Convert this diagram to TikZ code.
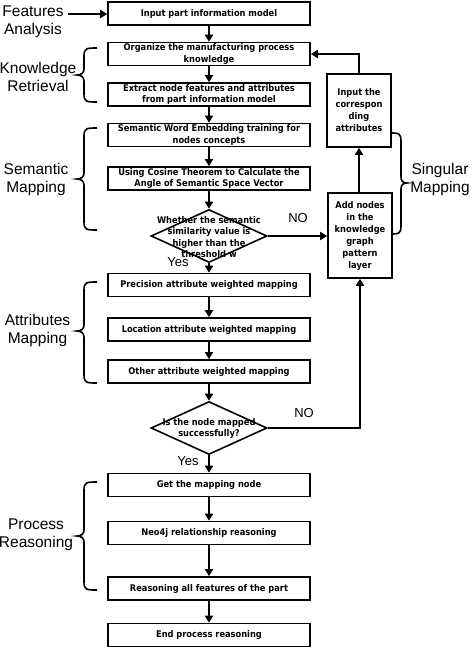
\documentclass[tikz,border=0pt]{standalone}
\usepackage{fontspec}
\usetikzlibrary{arrows.meta,shapes.geometric}
\newfontfamily\boxf[FakeStretch=0.9]{DejaVu Sans}
\newfontfamily\labf{Liberation Sans}
\newcommand\bracel[3]{\draw[brc] (97,#1) .. controls (87,#1) and (84,#1) .. (84,#1+8) -- (84,#3-6) .. controls (84,#3-2) and (81,#3) .. (77,#3) .. controls (81,#3) and (84,#3+2) .. (84,#3+6) -- (84,#2-8) .. controls (84,#2) and (87,#2) .. (97,#2);}
\newcommand\bracer[3]{\draw[brc] (392,#1) .. controls (398,#1) and (401,#1) .. (401,#1+8) -- (401,#3-6) .. controls (401,#3-2) and (403,#3) .. (407,#3) .. controls (403,#3) and (401,#3+2) .. (401,#3+6) -- (401,#2-8) .. controls (401,#2) and (398,#2) .. (392,#2);}
\begin{document}
\begin{tikzpicture}[x=1pt,y=-1pt,
  box/.style={draw, line width=1.6pt, minimum width=202pt, minimum height=23pt, inner sep=1pt, align=center, font=\boxf\bfseries\fontsize{9.2}{11.8}\selectfont},
  sbox/.style={draw, line width=1.6pt, minimum width=64pt, inner sep=1pt, align=center, font=\boxf\bfseries\fontsize{9.2}{12}\selectfont},
  dia/.style={draw, diamond, line width=1.6pt, minimum width=116pt, minimum height=53pt, inner sep=0pt},
  dtxt/.style={align=center, inner sep=0pt, font=\boxf\bfseries\fontsize{9.2}{11.3}\selectfont},
  arr/.style={line width=1.7pt, -{Triangle[length=7pt,width=8pt]}},
  brc/.style={line width=1.6pt},
  lab/.style={font=\labf\fontsize{15.5}{18}\selectfont, align=center},
  yn/.style={font=\labf\fontsize{13}{15}\selectfont, inner sep=0pt}]
\useasboundingbox (0,0) rectangle (474,650);
\fill[white] (0,0) rectangle (474,650);
% main column
\node[box] (b1) at (209,13.5) {Input part information model};
\node[box] (b2) at (209,54) {Organize the manufacturing process\\knowledge};
\node[box] (b3) at (209,94.5) {Extract node features and attributes\\from part information model};
\node[box] (b4) at (209,135) {Semantic Word Embedding training for\\nodes concepts};
\node[box] (b5) at (209,178.5) {Using Cosine Theorem to Calculate the\\Angle of Semantic Space Vector};
\node[dia] (d1) at (209,236) {};
\node[dtxt] (d1t) at (209,237) {Whether the semantic\\similarity value is\\higher than the\\threshold w};
\node[box] (b6) at (209,285) {Precision attribute weighted mapping};
\node[box] (b7) at (209,329.5) {Location attribute weighted mapping};
\node[box] (b8) at (209,371.5) {Other attribute weighted mapping};
\node[dia] (d2) at (209,428) {};
\node[dtxt] (d2t) at (209,428.5) {Is the node mapped\\successfully?};
\node[box] (b9) at (209,485) {Get the mapping node};
\node[box] (b10) at (209,533) {Neo4j relationship reasoning};
\node[box] (b11) at (209,588.5) {Reasoning all features of the part};
\node[box] (b12) at (209,635) {End process reasoning};
% right column
\node[sbox, minimum height=85pt] (ra) at (360,235.5) {Add nodes\\in the\\knowledge\\graph\\pattern\\layer};
\node[sbox, minimum height=73pt] (rb) at (359,110.5) {Input the\\correspon\\ding\\attributes};
% arrows
\draw[arr] (b1) -- (b2);
\draw[arr] (b2) -- (b3);
\draw[arr] (b3) -- (b4);
\draw[arr] (b4) -- (b5);
\draw[arr] (b5) -- (d1);
\draw[arr] (d1) -- (b6);
\draw[arr] (b6) -- (b7);
\draw[arr] (b7) -- (b8);
\draw[arr] (b8) -- (d2);
\draw[arr] (d2) -- (b9);
\draw[arr] (b9) -- (b10);
\draw[arr] (b10) -- (b11);
\draw[arr] (b11) -- (b12);
\draw[arr] (d1.east) -- (d1.east -| ra.west);
\draw[arr] (ra.north -| rb.south) -- (rb.south);
\draw[arr] (rb.north) |- (b2.east);
\draw[arr] (d2.east) -| (ra.south);
% yes / no
\node[yn] (no1) at (298,218) {NO};
\node[yn] (no2) at (304,413) {NO};
\node[yn] (y1) at (178,262) {Yes};
\node[yn] (y2) at (188,461) {Yes};
% left labels
\node[lab] (fa) at (33,22) {Features\\Analysis};
\coordinate (fas) at (68,14);
\draw[arr] (fas) -- (fas -| b1.west);
\node[lab] (kr) at (38,77) {Knowledge\\Retrieval};
\node[lab] (sm) at (36,179) {Semantic\\Mapping};
\node[lab] (am) at (37.5,330) {Attributes\\Mapping};
\node[lab] (pr) at (36,535) {Process\\Reasoning};
\node[lab] (sg) at (440,179) {Singular\\Mapping};
% braces
\bracel{48}{102}{75}
\bracel{128}{230}{179}
\bracel{282}{383}{331}
\bracel{482}{590}{536}
\bracer{133}{234}{183}
\end{tikzpicture}
\end{document}
